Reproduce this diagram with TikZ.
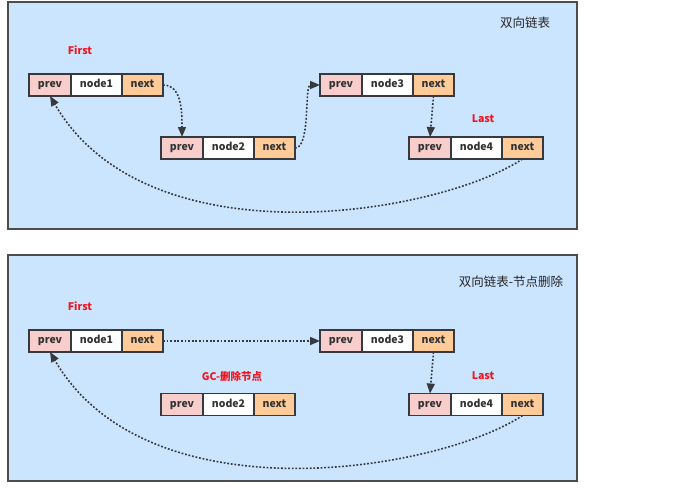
\documentclass[tikz,border=0pt]{standalone}
\usepackage{fontspec}
\setmainfont{Noto Sans CJK SC}
\usetikzlibrary{arrows.meta}
\definecolor{panelbg}{HTML}{CCE5FF}
\definecolor{panelline}{HTML}{4D4D4D}
\definecolor{prevfill}{HTML}{F8CECC}
\definecolor{nextfill}{HTML}{FFCC99}
\definecolor{cellline}{HTML}{36393D}
\definecolor{celltext}{HTML}{333333}
\definecolor{redlab}{HTML}{F0141E}
\newcommand\listnode[4]{%
  \node[cellbox, fill=prevfill, minimum width=42pt, anchor=west] (#1p) at (#2,#3) {prev};
  \node[cellbox, fill=white, minimum width=51pt, anchor=west] (#1m) at (#1p.east) {#4};
  \node[cellbox, fill=nextfill, minimum width=41pt, anchor=west] (#1n) at (#1m.east) {next};
}
\begin{document}
\begin{tikzpicture}[x=1pt,y=-1pt,
  panel/.style={draw=panelline, fill=panelbg, line width=1.5pt},
  cellbox/.style={draw=cellline, line width=1.2pt, rectangle, minimum height=22pt,
    inner sep=0pt, outer sep=0pt, text=celltext, text height=7.5pt, text depth=2pt,
    font=\fontsize{10.5}{12}\selectfont\bfseries},
  redtag/.style={text=redlab, font=\fontsize{10.5}{12}\selectfont\bfseries, inner sep=0pt},
  titletag/.style={text=black!85, font=\fontsize{12.5}{14}\selectfont, inner sep=0pt},
  link/.style={draw=cellline, line width=1.6pt, dash pattern=on 1.8pt off 1.8pt,
    -{Triangle[width=8pt,length=10pt]}}
]
\useasboundingbox (0,0) rectangle (677,496);
\fill[white] (0,0) rectangle (677,496);
% panel 1
\draw[panel] (8,2) rectangle (577,229);
\node[titletag] (t1) at (525,23) {双向链表};
\node[redtag] (f1) at (80,50) {First};
\node[redtag] (l1) at (483,119) {Last};
\listnode{a1}{29}{85}{node1}
\listnode{a2}{161}{148}{node2}
\listnode{a3}{320}{85}{node3}
\listnode{a4}{409}{148}{node4}
\draw[link] (a1n.east) .. controls +(19,0) and +(0,-25) .. (a2p.north);
\draw[link] (a2n.east) .. controls +(16,0) and +(-16,0) .. (a3p.west);
\draw[link] (a3n.south) -- (a4p.north);
\draw[link] (a4n.south) .. controls +(-83,55) and +(98,168) .. (a1p.south);
% panel 2
\draw[panel] (8,255) rectangle (577,481);
\node[titletag] (t2) at (511,282) {双向链表-节点删除};
\node[redtag] (f2) at (80,306) {First};
\node[redtag] (g2) at (232,376) {GC-删除节点};
\node[redtag] (l2) at (483,376) {Last};
\listnode{b1}{29}{341}{node1}
\listnode{b2}{161}{404.5}{node2}
\listnode{b3}{320}{341}{node3}
\listnode{b4}{409}{404.5}{node4}
\draw[link] (b1n.east) -- (b3p.west);
\draw[link] (b3n.south) -- (b4p.north);
\draw[link] (b4n.south) .. controls +(-83,55) and +(98,168) .. (b1p.south);
\end{tikzpicture}
\end{document}
